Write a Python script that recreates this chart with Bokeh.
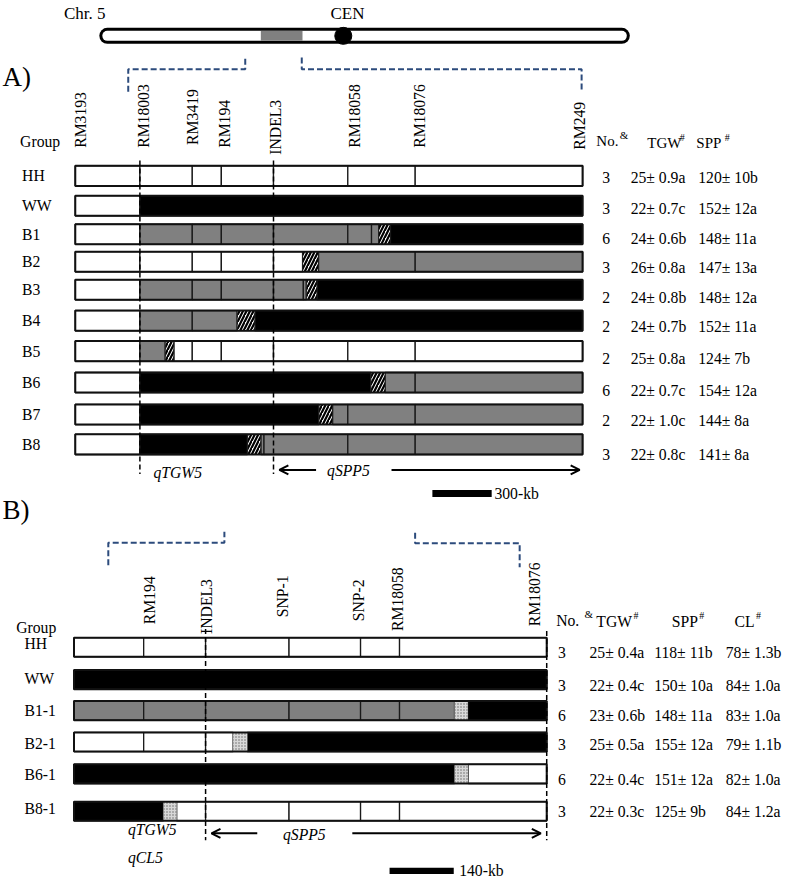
import numpy as np
from bokeh.plotting import figure
from bokeh.models import Range1d, Arrow, OpenHead
from bokeh.core.properties import value
from bokeh.embed import file_html
from bokeh.resources import INLINE

# ======================= DATA =======================
chrom_len_mb = 29.9
chrom_region_mb = (9.1, 11.45)
cen_mb = 13.75

markers_A = ["RM3193", "RM18003", "RM3419", "RM194", "INDEL3", "RM18058", "RM18076", "RM249"]
markers_A_kb = [0, 327, 592, 739, 1003, 1379, 1720, 2567]
groups_A = ["HH", "WW", "B1", "B2", "B3", "B4", "B5", "B6", "B7", "B8"]
# blocks: (start kb, end kb, genotype)  H = HH type (white), W = WW type (black),
# h = heterozygous (grey), r = recombination interval (hatched)
A_HH = [(0, 327, "H"), (327, 592, "H"), (592, 739, "H"), (739, 1003, "H"), (1003, 1379, "H"), (1379, 1720, "H"), (1720, 2567, "H")]
A_WW = [(0, 327, "H"), (327, 2567, "W")]
A_B1 = [(0, 327, "H"), (327, 592, "h"), (592, 739, "h"), (739, 1003, "h"), (1003, 1379, "h"), (1379, 1499, "h"), (1499, 1535, "h"), (1535, 1595, "r"), (1595, 2567, "W")]
A_B2 = [(0, 327, "H"), (327, 592, "H"), (592, 739, "H"), (739, 1003, "H"), (1003, 1150, "H"), (1150, 1231, "r"), (1231, 1720, "h"), (1720, 2567, "h")]
A_B3 = [(0, 327, "H"), (327, 592, "h"), (592, 739, "h"), (739, 1003, "h"), (1003, 1154, "h"), (1154, 1169, "h"), (1169, 1223, "r"), (1223, 2567, "W")]
A_B4 = [(0, 327, "H"), (327, 592, "h"), (592, 819, "h"), (819, 909, "r"), (909, 2567, "W")]
A_B5 = [(0, 327, "H"), (327, 455, "h"), (455, 499, "r"), (499, 592, "H"), (592, 739, "H"), (739, 1003, "H"), (1003, 1379, "H"), (1379, 1720, "H"), (1720, 2567, "H")]
A_B6 = [(0, 327, "H"), (327, 1496, "W"), (1496, 1568, "r"), (1568, 1720, "h"), (1720, 2567, "h")]
A_B7 = [(0, 327, "H"), (327, 1233, "W"), (1233, 1302, "r"), (1302, 1379, "h"), (1379, 1720, "h"), (1720, 2567, "h")]
A_B8 = [(0, 327, "H"), (327, 871, "W"), (871, 939, "r"), (939, 955, "h"), (955, 1379, "h"), (1379, 1720, "h"), (1720, 2567, "h")]
No_A = ["3", "3", "6", "3", "2", "2", "2", "6", "2", "3"]
TGW_A = ["25± 0.9a", "22± 0.7c", "24± 0.6b", "26± 0.8a", "24± 0.8b", "24± 0.7b", "25± 0.8a", "22± 0.7c", "22± 1.0c", "22± 0.8c"]
SPP_A = ["120± 10b", "152± 12a", "148± 11a", "147± 13a", "148± 12a", "152± 11a", "124± 7b", "154± 12a", "144± 8a", "141± 8a"]
bracket_A_kb = [(268, 860), (1146, 2562)]
scale_A_kb = 300

markers_B = ["RM194", "INDEL3", "SNP-1", "SNP-2", "RM18058", "RM18076"]
markers_B_kb = [152, 287, 469, 625, 710, 1031]
groups_B = ["HH", "WW", "B1-1", "B2-1", "B6-1", "B8-1"]
B_HH = [(0, 152, "H"), (152, 287, "H"), (287, 469, "H"), (469, 625, "H"), (625, 710, "H"), (710, 1031, "H")]
B_WW = [(0, 1031, "W")]
B_B1_1 = [(0, 152, "h"), (152, 287, "h"), (287, 469, "h"), (469, 625, "h"), (625, 710, "h"), (710, 830, "h"), (830, 859, "r"), (859, 1031, "W")]
B_B2_1 = [(0, 152, "H"), (152, 287, "H"), (287, 347, "H"), (347, 378, "r"), (378, 1031, "W")]
B_B6_1 = [(0, 830, "W"), (830, 860, "r"), (860, 1031, "H")]
B_B8_1 = [(0, 195, "W"), (195, 224, "r"), (224, 287, "H"), (287, 469, "H"), (469, 625, "H"), (625, 710, "H"), (710, 1031, "H")]
No_B = ["3", "3", "6", "3", "6", "3"]
TGW_B = ["25± 0.4a", "22± 0.4c", "23± 0.6b", "25± 0.5a", "22± 0.4c", "22± 0.3c"]
SPP_B = ["118± 11b", "150± 10a", "148± 11a", "155± 12a", "151± 12a", "125± 9b"]
CL_B = ["78± 1.3b", "84± 1.0a", "83± 1.0a", "79± 1.1b", "82± 1.0a", "84± 1.2a"]
bracket_B_kb = [(75, 328), (744, 972)]
scale_B_kb = 140

# ======================= LAYOUT =======================
FONT = value("Liberation Serif")
FS = "15.7px"
W, H = 784, 880
BLUE = "#2c4b7c"
GREY = "#808080"

A_x0, A_pxkb = 76.3, 60.5 / 300
B_x0, B_pxkb = 75.0, 65.5 / 140
def pxA(kb): return A_x0 + kb * A_pxkb
def pxB(kb): return B_x0 + kb * B_pxkb

A_rows_y = [178.5, 209, 238, 266, 294.5, 326, 357, 389, 421.5, 452]
B_rows_y = [658.5, 691.5, 723, 755, 787.5, 825.5]
A_bar_h, B_bar_h = 20.5, 19.5

p = figure(width=W, height=H, x_range=Range1d(0, 800), y_range=Range1d(896, 0),
           output_backend="svg", toolbar_location=None, x_axis_type=None, y_axis_type=None,
           min_border=0, min_border_left=0, min_border_right=0, min_border_top=0, min_border_bottom=0)
p.outline_line_color = None
p.background_fill_color = "white"
p.border_fill_color = "white"

def txt(x, y, t, size=FS, align="left", baseline="middle", style="normal", angle=0, color="black"):
    if not isinstance(x, (list, tuple)):
        x, y, t = [x], [y], [t]
    p.text(x=x, y=y, text=t, text_font=FONT, text_font_size=size, text_align=align,
           text_baseline=baseline, text_font_style=style, angle=angle, text_color=color)

# ---------------- chromosome ----------------
chr_x0, chr_x1, chr_y = 101, 642, 36
cpx = lambda mb: chr_x0 + mb * (chr_x1 - chr_x0) / chrom_len_mb
p.line([chr_x0 + 8, chr_x1 - 8], [chr_y, chr_y], line_width=16, line_color="black", line_cap="round")
p.line([chr_x0 + 8, chr_x1 - 8], [chr_y, chr_y], line_width=10, line_color="white", line_cap="round")
p.quad(left=[cpx(chrom_region_mb[0])], right=[cpx(chrom_region_mb[1])], top=[chr_y - 5], bottom=[chr_y + 5],
       fill_color=GREY, line_color=None)
p.scatter(x=[cpx(cen_mb)], y=[chr_y], size=17, marker="circle", fill_color="black", line_color="black")
txt(86, 13, "Chr. 5", size="17px", align="center")
txt(354, 13, "CEN", size="17px", align="center")

# ---------------- helpers ----------------
def draw_panel(rows, ys, px, bar_h, rec_kind):
    styles = {"H": "white", "W": "black", "h": GREY}
    for code, col in styles.items():
        L, R, T, B = [], [], [], []
        for blocks, yc in zip(rows, ys):
            for s, e, g in blocks:
                if g == code:
                    L.append(px(s)); R.append(px(e)); T.append(yc - bar_h / 2); B.append(yc + bar_h / 2)
        p.quad(left=L, right=R, top=T, bottom=B, fill_color=col, line_color="#1a1a1a", line_width=1.3)
    L, R, T, B = [], [], [], []
    for blocks, yc in zip(rows, ys):
        for s, e, g in blocks:
            if g == "r":
                L.append(px(s)); R.append(px(e)); T.append(yc - bar_h / 2); B.append(yc + bar_h / 2)
    if rec_kind == "hatch":
        p.quad(left=L, right=R, top=T, bottom=B, fill_color="white", line_color="#1a1a1a", line_width=1,
               hatch_pattern="right_diagonal_line", hatch_color="black", hatch_weight=2.2, hatch_scale=7)
    else:
        p.quad(left=L, right=R, top=T, bottom=B, fill_color="#d8d8d8", line_color=None,
               hatch_pattern="dot", hatch_color="#666666", hatch_weight=1, hatch_scale=3)
    # outer outline
    p.quad(left=[px(r[0][0]) for r in rows], right=[px(r[-1][1]) for r in rows],
           top=[y - bar_h / 2 for y in ys], bottom=[y + bar_h / 2 for y in ys],
           fill_color=None, line_color="#111111", line_width=2)

def bracket(x0, x1, y_h, y_low, y_tick, left_low=True):
    if left_low:
        xs, ys = [x0, x0, x1, x1], [y_low, y_h, y_h, y_tick]
    else:
        xs, ys = [x0, x0, x1, x1], [y_tick, y_h, y_h, y_low]
    p.line(xs, ys, line_color=BLUE, line_width=2, line_dash="6 3")

# ======================= PANEL A =======================
txt(2, 78, "A)", size="27px")
bracket(pxA(bracket_A_kb[0][0]), pxA(bracket_A_kb[0][1]), 70, 93, 58, left_low=True)
bracket(pxA(bracket_A_kb[1][0]), pxA(bracket_A_kb[1][1]), 70, 93, 58, left_low=False)

A_lab_dx = [5, 4, 0, 3, 2, 7, 4, -3]
A_lab_bottom = [150, 150, 147, 150, 157, 150, 150, 152]
txt([pxA(k) + d for k, d in zip(markers_A_kb, A_lab_dx)], A_lab_bottom, markers_A, angle=np.pi / 2)
txt(20, 144, "Group")
txt([22] * len(groups_A), A_rows_y, groups_A)

rows_A = [A_HH, A_WW, A_B1, A_B2, A_B3, A_B4, A_B5, A_B6, A_B7, A_B8]
draw_panel(rows_A, A_rows_y, pxA, A_bar_h, "hatch")

for k in (markers_A_kb[1], markers_A_kb[4]):
    p.line([pxA(k), pxA(k)], [163, 482], line_color="black", line_width=1.5, line_dash="5 3")

txt(156, 481, "qTGW5", style="italic")
txt(355, 479, "qSPP5", style="italic", align="center")
p.add_layout(Arrow(end=OpenHead(size=9, line_width=2), x_start=322, y_start=478,
                   x_end=pxA(markers_A_kb[4]) + 6, y_end=478, line_width=2))
p.add_layout(Arrow(end=OpenHead(size=9, line_width=2), x_start=399, y_start=478,
                   x_end=pxA(markers_A_kb[-1]) - 3, y_end=478, line_width=2))

# table A
A_tab_y = [180, 212, 242, 272, 302, 332, 365, 397, 428, 462]
txt(608, 143, "No.", size="15px")
txt(632, 137, "&", size="11px")
txt(660, 145, "TGW", size="15px")
txt(693, 139, "#", size="10px")
txt(710, 145, "SPP", size="15px")
txt(739, 139, "#", size="10px")
txt([618] * len(No_A), A_tab_y, No_A, align="center")
txt([643] * len(TGW_A), A_tab_y, TGW_A)
txt([712] * len(SPP_A), A_tab_y, SPP_A)

# scale bar A
sA0 = 440.7
p.quad(left=[sA0], right=[sA0 + scale_A_kb * A_pxkb], top=[498.5], bottom=[505.5], fill_color="black", line_color=None)
txt(504, 502, f"{scale_A_kb}-kb")

# ======================= PANEL B =======================
txt(2, 519, "B)", size="27px")
bracket(110, pxB(bracket_B_kb[0][1]), 552, 575, 541, left_low=True)
bracket(pxB(bracket_B_kb[1][0]), pxB(bracket_B_kb[1][1]), 552.5, 577, 542, left_low=False)

B_lab_dx = [5.5, 0.5, -6.5, -2.6, -2, -12]
B_lab_bottom = [635, 645, 628, 632, 642, 637]
txt([pxB(k) + d for k, d in zip(markers_B_kb, B_lab_dx)], B_lab_bottom, markers_B, angle=np.pi / 2)
txt(16, 638, "Group")
txt([24.5] * len(groups_B), [655, 690, 723, 757, 788, 823], groups_B)

rows_B = [B_HH, B_WW, B_B1_1, B_B2_1, B_B6_1, B_B8_1]
draw_panel(rows_B, B_rows_y, pxB, B_bar_h, "dots")

p.line([pxB(markers_B_kb[1])] * 2, [640, 855], line_color="black", line_width=1.5, line_dash="5 3")
p.line([pxB(markers_B_kb[-1])] * 2, [642, 855], line_color="black", line_width=1.5, line_dash="5 3")

txt(130, 844, "qTGW5", style="italic")
txt(130, 873, "qCL5", style="italic")
txt(310, 849, "qSPP5", style="italic", align="center")
p.add_layout(Arrow(end=OpenHead(size=9, line_width=2), x_start=262, y_start=848,
                   x_end=pxB(markers_B_kb[1]) + 6, y_end=848, line_width=2))
p.add_layout(Arrow(end=OpenHead(size=9, line_width=2), x_start=359, y_start=848,
                   x_end=pxB(markers_B_kb[-1]) - 6, y_end=848, line_width=2))

# table B
B_tab_y = [663.5, 697, 728, 758, 793.5, 826]
txt(567, 631, "No.")
txt(596, 625, "&", size="11px")
txt(608, 632, "TGW")
txt(646, 626, "#", size="10px")
txt(685, 632, "SPP")
txt(713, 626, "#", size="10px")
txt(749, 632, "CL")
txt(771, 626, "#", size="10px")
txt([573] * len(No_B), B_tab_y, No_B, align="center")
txt([601] * len(TGW_B), B_tab_y, TGW_B)
txt([667] * len(SPP_B), B_tab_y, SPP_B)
txt([740] * len(CL_B), B_tab_y, CL_B)

# scale bar B
sB0 = 397
p.quad(left=[sB0], right=[sB0 + scale_B_kb * B_pxkb], top=[883], bottom=[889.5], fill_color="black", line_color=None)
txt(468, 886, f"{scale_B_kb}-kb")

open("out.html", "w").write(file_html(p, INLINE))
